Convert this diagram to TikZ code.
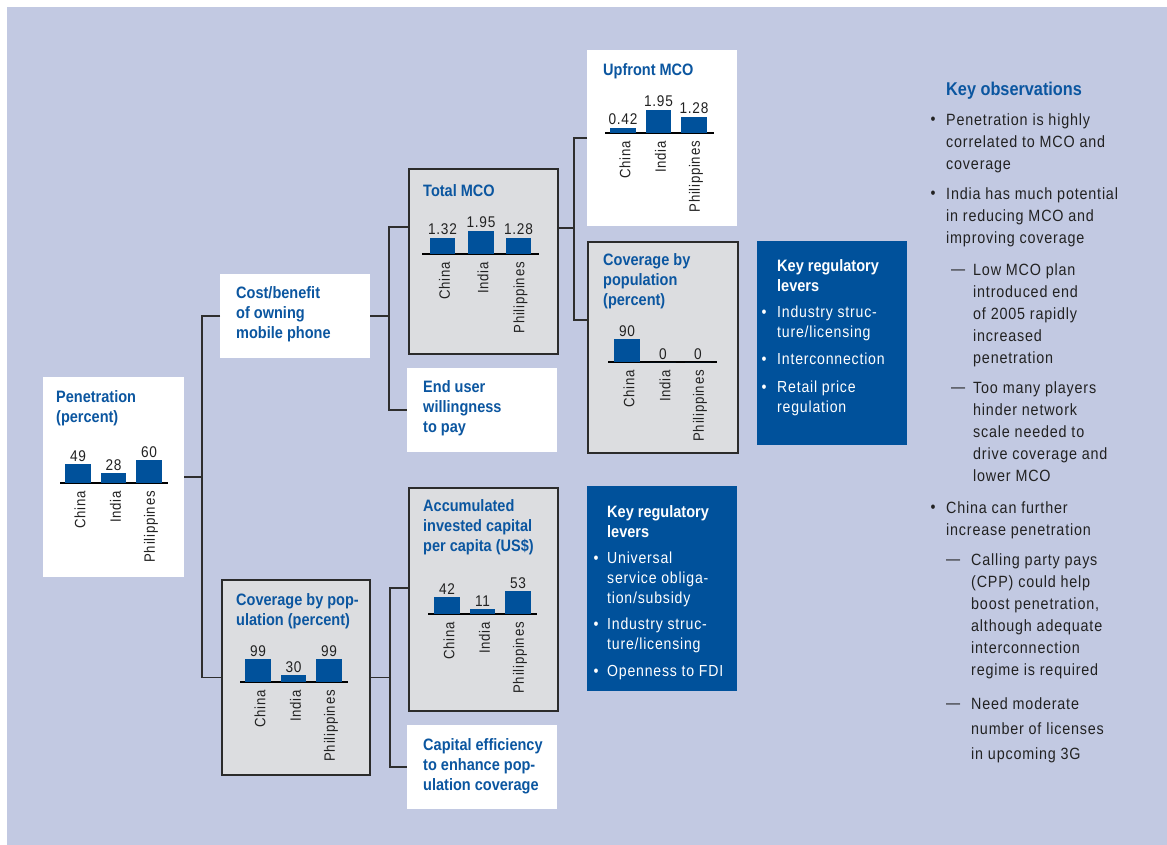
\documentclass[tikz,border=0pt]{standalone}
\usepackage{fontspec}
\setmainfont{Liberation Sans}
\newfontfamily\regf{Liberation Sans}[FakeStretch=0.88,LetterSpace=5]
\newfontfamily\boldf{Liberation Sans}[FakeStretch=0.88]
\definecolor{bgblue}{HTML}{C2C9E2}
\definecolor{boxgray}{HTML}{DCDDE0}
\definecolor{bordergray}{HTML}{2B2B2B}
\definecolor{barblue}{HTML}{00519B}
\definecolor{titleblue}{HTML}{0B56A0}
\definecolor{txt}{HTML}{222222}
\definecolor{linegray}{HTML}{2E2E2E}
\tikzset{
  conn/.style={draw=linegray, line width=1.8pt},
  axisline/.style={draw=black, line width=2.6pt},
  whitebox/.style={fill=white, draw=none, anchor=north west, inner sep=0pt},
  graybox/.style={fill=boxgray, draw=bordergray, line width=1.8pt, anchor=north west, inner sep=0pt},
  bluebox/.style={fill=barblue, draw=none, anchor=north west, inner sep=0pt},
  ttl/.style={anchor=north west, inner sep=0pt, align=left, text=titleblue, font=\boldf\bfseries\fontsize{16.5}{20}\selectfont},
  wttl/.style={ttl, text=white},
  val/.style={anchor=base, inner sep=0pt, text=txt, font=\regf\fontsize{15.5}{17}\selectfont},
  cty/.style={rotate=90, anchor=east, inner sep=0pt, text=txt, font=\regf\fontsize{15}{17}\selectfont},
  lev/.style={anchor=north west, inner sep=0pt, align=left, text=white, font=\regf\fontsize{16}{20}\selectfont},
  levdot/.style={anchor=base, inner sep=0pt, text=white, font=\regf\fontsize{16}{20}\selectfont},
  obs/.style={anchor=north west, inner sep=0pt, align=left, text=txt, font=\regf\fontsize{16.3}{22}\selectfont},
  obsdot/.style={anchor=base, inner sep=0pt, text=txt, font=\regf\fontsize{16}{22}\selectfont},
  obsdash/.style={anchor=base west, inner sep=0pt, text=txt, font=\regf\fontsize{16}{22}\selectfont},
}
\newcommand{\cbar}[7]{%
  \fill[barblue] (#2,#5) rectangle (#3,#4);
  \node[val] (#1v) at ({(#2+#3)/2},#4-3) {#6};
  \node[cty] (#1c) at ({(#2+#3)/2+2},#5+8) {#7};}
\begin{document}
\begin{tikzpicture}[x=1pt,y=-1pt]
\useasboundingbox (0,0) rectangle (1167,845);
\fill[white] (0,0) rectangle (1167,845);
\fill[bgblue] (7,7) rectangle (1167,845);

% ---------- boxes ----------
\node[whitebox, minimum width=141pt, minimum height=200pt] (pen) at (43,377) {};
\node[whitebox, minimum width=150pt, minimum height=84pt] (cost) at (220,274) {};
\node[whitebox, minimum width=150pt, minimum height=84pt] (eu) at (407,368) {};
\node[graybox, minimum width=149pt, minimum height=185pt] (tmco) at (408,168) {};
\node[whitebox, minimum width=150pt, minimum height=176pt] (up) at (587,50) {};
\node[graybox, minimum width=150pt, minimum height=211pt] (cov1) at (587,241) {};
\node[bluebox, minimum width=150pt, minimum height=204pt] (lev1) at (757,241) {};
\node[graybox, minimum width=148pt, minimum height=195pt] (cov2) at (221,579) {};
\node[graybox, minimum width=149pt, minimum height=223pt] (acc) at (408,487) {};
\node[bluebox, minimum width=150pt, minimum height=205pt] (lev2) at (587,486) {};
\node[whitebox, minimum width=150pt, minimum height=84pt] (cap) at (407,725) {};

% ---------- connectors ----------
\coordinate (j1) at (202,0);
\coordinate (j2) at (389,0);
\coordinate (j3) at (574,0);
\coordinate (j4) at (390,0);
\draw[conn] (pen.east) -- (pen.east -| j1);
\draw[conn] (cost.west) -| (j1 |- cov2.west) -- (cov2.west);
\draw[conn] (cost.east) -- (cost.east -| j2);
\draw[conn] (tmco.west |- 0,227) -| (j2 |- eu.west) -- (eu.west);
\draw[conn] (tmco.east |- 0,228) -- (j3 |- 0,228);
\draw[conn] (up.west) -| (j3 |- 0,320) -- (cov1.west |- 0,320);
\draw[conn] (cov2.east) -- (cov2.east -| j4);
\draw[conn] (acc.west |- 0,588) -| (j4 |- cap.west) -- (cap.west);

% ---------- titles ----------
\node[ttl] (pent) at (56,390) {Penetration\\(percent)};
\node[ttl] (costt) at (236,286) {Cost/benefit\\of owning\\mobile phone};
\node[ttl] (eut) at (423,380) {End user\\willingness\\to pay};
\node[ttl] (tmcot) at (423,184) {Total MCO};
\node[ttl] (upt) at (603,63) {Upfront MCO};
\node[ttl] (cov1t) at (603,253) {Coverage by\\population\\(percent)};
\node[ttl] (cov2t) at (236,593) {Coverage by pop-\\ulation (percent)};
\node[ttl] (acct) at (423,499) {Accumulated\\invested capital\\per capita (US\$)};
\node[ttl] (capt) at (423,738) {Capital efficiency\\to enhance pop-\\ulation coverage};

% ---------- bar charts ----------
\draw[axisline] (60,483) -- (168,483);
\cbar{pa}{65}{91}{464}{483}{49}{China}
\cbar{pb}{101}{126}{473}{483}{28}{India}
\cbar{pc}{136}{162}{460}{483}{60}{Philippines}

\draw[axisline] (422,254) -- (539,254);
\cbar{ta}{430}{455}{238}{254}{1.32}{China}
\cbar{tb}{468}{494}{231}{254}{1.95}{India}
\cbar{tc}{506}{531}{238}{254}{1.28}{Philippines}

\draw[axisline] (605,133) -- (714,133);
\cbar{ua}{610}{636}{128}{133}{0.42}{China}
\cbar{ub}{646}{671}{110}{133}{1.95}{India}
\cbar{uc}{681}{707}{117}{133}{1.28}{Philippines}

\draw[axisline] (608,362) -- (717,362);
\cbar{ca}{614}{640}{339}{362}{90}{China}
\cbar{cb}{650}{676}{362}{362}{0}{India}
\cbar{cc}{685}{711}{362}{362}{0}{Philippines}

\draw[axisline] (240,682) -- (348,682);
\cbar{da}{245}{271}{659}{682}{99}{China}
\cbar{db}{281}{306}{675}{682}{30}{India}
\cbar{dc}{316}{342}{659}{682}{99}{Philippines}

\draw[axisline] (428,614) -- (537,614);
\cbar{aa}{434}{460}{597}{614}{42}{China}
\cbar{ab}{470}{495}{609}{614}{11}{India}
\cbar{ac}{505}{531}{591}{614}{53}{Philippines}

% ---------- regulatory levers (upper) ----------
\node[wttl] (lev1t) at (777,259) {Key regulatory\\levers};
\node[lev] (l1a) at (777,306) {Industry struc-\\ture/licensing};
\node[levdot] (l1ad) at (764,317.5) {•};
\node[lev] (l1b) at (777,353) {Interconnection};
\node[levdot] (l1bd) at (764,364.5) {•};
\node[lev] (l1c) at (777,381) {Retail price\\regulation};
\node[levdot] (l1cd) at (764,392.5) {•};

% ---------- regulatory levers (lower) ----------
\node[wttl] (lev2t) at (607,505) {Key regulatory\\levers};
\node[lev] (l2a) at (607,552) {Universal\\service obliga-\\tion/subsidy};
\node[levdot] (l2ad) at (596,563.5) {•};
\node[lev] (l2b) at (607,618) {Industry struc-\\ture/licensing};
\node[levdot] (l2bd) at (596,629.5) {•};
\node[lev] (l2c) at (607,665) {Openness to FDI};
\node[levdot] (l2cd) at (596,676.5) {•};

% ---------- key observations ----------
\node[ttl, font=\boldf\bfseries\fontsize{18.5}{22}\selectfont] (kot) at (946,82) {Key observations};
\node[obs] (o1) at (946,113) {Penetration is highly\\correlated to MCO and\\coverage};
\node[obsdot] (o1d) at (933,124.5) {•};
\node[obs] (o2) at (946,187) {India has much potential\\in reducing MCO and\\improving coverage};
\node[obsdot] (o2d) at (933,198.5) {•};
\node[obs] (o3) at (973,263) {Low MCO plan\\introduced end\\of 2005 rapidly\\increased\\penetration};
\node[obsdash] (o3d) at (951,274.5) {—};
\node[obs] (o4) at (973,381) {Too many players\\hinder network\\scale needed to\\drive coverage and\\lower MCO};
\node[obsdash] (o4d) at (951,392.5) {—};
\node[obs] (o5) at (946,501) {China can further\\increase penetration};
\node[obsdot] (o5d) at (933,512.5) {•};
\node[obs] (o6) at (971,553) {Calling party pays\\(CPP) could help\\boost penetration,\\although adequate\\interconnection\\regime is required};
\node[obsdash] (o6d) at (946,564.5) {—};
\node[obs, font=\regf\fontsize{16.3}{25}\selectfont] (o7) at (971,697) {Need moderate\\number of licenses\\in upcoming 3G};
\node[obsdash] (o7d) at (946,708.5) {—};
\end{tikzpicture}
\end{document}
